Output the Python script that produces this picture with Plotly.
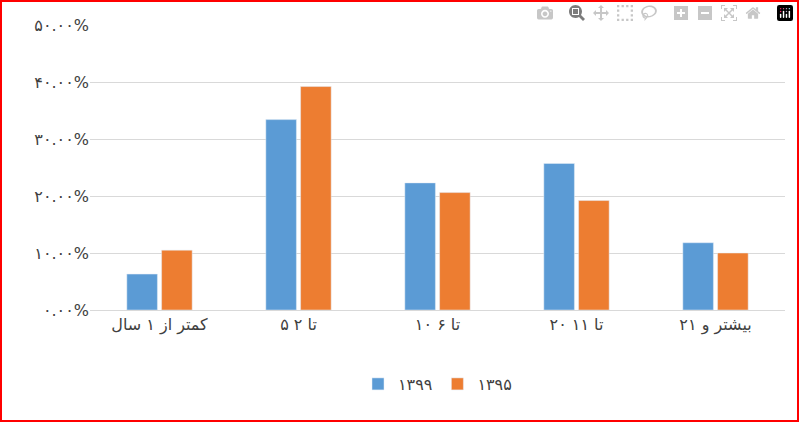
import plotly.graph_objects as go

categories = ["کمتر از ۱ سال", "۵ تا ۲", "۱۰ تا ۶", "۲۰ تا ۱۱", "بیشتر و ۲۱"]
series_1399 = [6.3, 33.4, 22.3, 25.7, 11.8]
series_1395 = [10.5, 39.2, 20.6, 19.2, 10.0]
tick_vals = [0, 10, 20, 30, 40, 50]
tick_text = ["۰.۰۰%", "۱۰.۰۰%", "۲۰.۰۰%", "۳۰.۰۰%", "۴۰.۰۰%", "۵۰.۰۰%"]

W, H = 799, 422
L, R, T, B = 90, 14, 25, 112

fig = go.Figure()
fig.add_bar(x=categories, y=series_1399, name="۱۳۹۹", marker_color="#5b9bd5")
fig.add_bar(x=categories, y=series_1395, name="۱۳۹۵", marker_color="#ed7d31")

pw, ph = W - L - R, H - T - B
fig.add_shape(type="rect", xref="paper", yref="paper",
              x0=(1 - L) / pw, x1=(W - 1 - L) / pw,
              y0=-(H - 1 - T - ph) / ph, y1=1 + (T - 1) / ph,
              line=dict(color="#ff0000", width=2))

fig.update_layout(
    width=W, height=H, margin=dict(l=L, r=R, t=T, b=B),
    plot_bgcolor="white", paper_bgcolor="white",
    font=dict(family="DejaVu Sans", size=16, color="#404040"),
    barmode="group", bargap=0.5, bargroupgap=0.12,
    legend=dict(orientation="h", x=0.5, xanchor="center", y=-0.2, yanchor="top",
                font=dict(size=16)),
    xaxis=dict(showline=True, linecolor="#d9d9d9", ticks="", tickfont=dict(size=16)),
    yaxis=dict(range=[0, 50], tickvals=tick_vals, ticktext=tick_text,
               gridcolor="#d9d9d9", zeroline=False, tickfont=dict(size=16)),
)
fig.write_html("out.html", post_script="document.body.style.margin='0';")
